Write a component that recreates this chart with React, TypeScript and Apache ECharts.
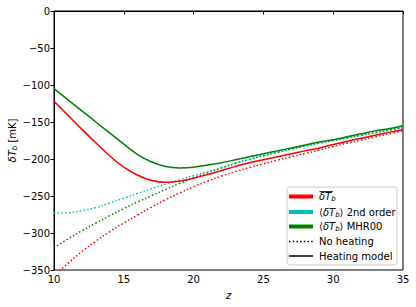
import React, { useEffect, useRef } from "react";
import * as echarts from "echarts";

const zValues = [10, 11, 12, 13, 14, 15, 16, 17, 18, 19, 20, 21, 22, 23, 24, 25, 26, 27, 28, 29, 30, 31, 32, 33, 34, 35];

const meanHeating = [-122, -141, -160, -178, -196, -211, -222, -229, -231.5, -230, -226, -221, -215.5, -210, -205, -201, -197, -193, -189, -185, -180.5, -176, -172, -168, -164, -160];
const meanNoHeating = [-358, -341, -325, -311, -298, -286.5, -275.5, -265, -255, -246, -237.5, -230, -223, -217, -211.5, -206.5, -201.5, -197, -192.5, -188, -183, -178.5, -174.5, -170, -166, -162];
const secondNoHeating = [-273, -272.5, -270, -265.5, -259.5, -253, -246.5, -240, -234, -228, -222.5, -217.5, -211.5, -205.5, -200.5, -195.5, -191, -186.5, -182.5, -178.5, -175, -171.5, -168, -164.5, -161, -157.5];
const mhrHeating = [-105, -120, -135, -150, -165, -180, -194, -204, -210, -212, -211, -208, -205, -201, -197, -193, -189, -185, -181, -177, -174, -170, -166, -162, -159, -155];
const mhrNoHeating = [-320, -308, -297, -286.5, -276.5, -267, -258, -249.5, -241, -233, -225.5, -218.5, -212, -206, -200.5, -195.5, -191, -186.5, -182.5, -178.5, -175, -171.5, -168, -164.5, -161, -157.5];

const xTicks = { min: 10, max: 35, interval: 5 };
const yTicks = { min: -350, max: 0, interval: 50 };

const RED = "#ff0000";
const CYAN = "#00bfbf";
const GREEN = "#008000";
const FONT = "DejaVu Sans";

function pairs(vals: number[]) {
  return zValues.map((z, i) => [z, vals[i]]);
}

function lineSeries(name: string, vals: number[], color: string, dotted: boolean) {
  return {
    name,
    type: "line",
    data: pairs(vals),
    smooth: 0.4,
    showSymbol: false,
    symbol: "none",
    clip: true,
    lineStyle: {
      color,
      width: 1.5,
      type: dotted ? [1.5, 2.2] : "solid",
      cap: "butt",
    },
  };
}

const minus = (v: number) => String(v).replace("-", "\u2212");

export default function App() {
  const ref = useRef<HTMLDivElement>(null);
  useEffect(() => {
    if (!ref.current) return;
    const chart = echarts.init(ref.current, null, { renderer: "svg" });
    const lx1 = 289;
    const lx2 = 313;
    const tx = 319;
    const rows = [196.5, 212, 226.5, 241.5, 256];
    const richBase = {
      n: { fontFamily: FONT, fontSize: 10, color: "#000" },
      i: { fontFamily: FONT, fontSize: 10, fontStyle: "italic", color: "#000" },
      s: { fontFamily: FONT, fontSize: 7, fontStyle: "italic", color: "#000", padding: [5, 0, 0, 0] },
    };
    const legendTexts = [
      "{i|δT}{s|b}",
      "{n|⟨}{i|δT}{s|b}{n|⟩ 2nd order}",
      "{n|⟨}{i|δT}{s|b}{n|⟩ MHR00}",
      "{n|No heating}",
      "{n|Heating model}",
    ];
    const graphic: any[] = [
      {
        type: "rect",
        shape: { x: 287, y: 187, width: 110, height: 78, r: 3 },
        style: { fill: "rgba(255,255,255,0.85)", stroke: "#cccccc", lineWidth: 1 },
        z: 10,
      },
      { type: "line", shape: { x1: lx1, y1: rows[0], x2: lx2, y2: rows[0] }, style: { stroke: RED, lineWidth: 4 }, z: 11 },
      { type: "line", shape: { x1: lx1, y1: rows[1], x2: lx2, y2: rows[1] }, style: { stroke: CYAN, lineWidth: 4 }, z: 11 },
      { type: "line", shape: { x1: lx1, y1: rows[2], x2: lx2, y2: rows[2] }, style: { stroke: GREEN, lineWidth: 4 }, z: 11 },
      { type: "line", shape: { x1: lx1, y1: rows[3], x2: lx2, y2: rows[3] }, style: { stroke: "#000", lineWidth: 1.5, lineDash: [1.5, 2.2] }, z: 11 },
      { type: "line", shape: { x1: lx1, y1: rows[4], x2: lx2, y2: rows[4] }, style: { stroke: "#000", lineWidth: 1.5 }, z: 11 },
      { type: "line", shape: { x1: 319.5, y1: 191.5, x2: 333, y2: 191.5 }, style: { stroke: "#000", lineWidth: 0.8 }, z: 11 },
      ...legendTexts.map((t, k) => ({
        type: "text",
        x: tx,
        y: rows[k],
        z: 11,
        style: { text: t, rich: richBase, verticalAlign: "middle", align: "left" },
      })),
    ];
    chart.setOption({
      animation: false,
      backgroundColor: "#fff",
      grid: {
        left: 54, right: 13, top: 11, bottom: 37,
        show: true, borderColor: "#000", borderWidth: 1, backgroundColor: "transparent",
        containLabel: false,
        outerBoundsMode: "none",
      },
      xAxis: {
        type: "value",
        min: xTicks.min,
        max: xTicks.max,
        interval: xTicks.interval,
        name: "z",
        nameLocation: "middle",
        nameGap: 20,
        nameMoveOverlap: false,
        nameTextStyle: { fontFamily: FONT, fontSize: 10, fontStyle: "italic", color: "#000" },
        axisLine: { show: true, lineStyle: { color: "#000", width: 1 } },
        axisTick: { show: true, inside: false, length: 3.5, lineStyle: { color: "#000" } },
        axisLabel: { fontFamily: FONT, fontSize: 10, color: "#000", margin: 4, formatter: (v: number) => minus(v) },
        splitLine: { show: false },
      },
      yAxis: {
        type: "value",
        min: yTicks.min,
        max: yTicks.max,
        interval: yTicks.interval,
        name: "{i|δT}{s|b}{n| [mK]}",
        nameLocation: "middle",
        nameGap: 36,
        nameRotate: 90,
        nameMoveOverlap: false,
        nameTextStyle: {
          fontFamily: FONT,
          fontSize: 10,
          color: "#000",
          rich: {
            n: { fontFamily: FONT, fontSize: 10, color: "#000" },
            i: { fontFamily: FONT, fontSize: 10, fontStyle: "italic", color: "#000" },
            s: { fontFamily: FONT, fontSize: 7, fontStyle: "italic", color: "#000", padding: [5, 0, 0, 0] },
          },
        },
        axisLine: { show: true, lineStyle: { color: "#000", width: 1 } },
        axisTick: { show: true, inside: false, length: 3.5, lineStyle: { color: "#000" } },
        axisLabel: { fontFamily: FONT, fontSize: 10, color: "#000", margin: 4, formatter: (v: number) => minus(v) },
        splitLine: { show: false },
      },
      series: [
        lineSeries("meanNoHeating", meanNoHeating, RED, true),
        lineSeries("mhrNoHeating", mhrNoHeating, GREEN, true),
        lineSeries("secondNoHeating", secondNoHeating, CYAN, true),
        lineSeries("meanHeating", meanHeating, RED, false),
        lineSeries("mhrHeating", mhrHeating, GREEN, false),
      ],
      graphic,
    });
    return () => chart.dispose();
  }, []);
  return <div ref={ref} style={{ width: 416, height: 307, position: "absolute", left: 0, top: 0 }} />;
}
